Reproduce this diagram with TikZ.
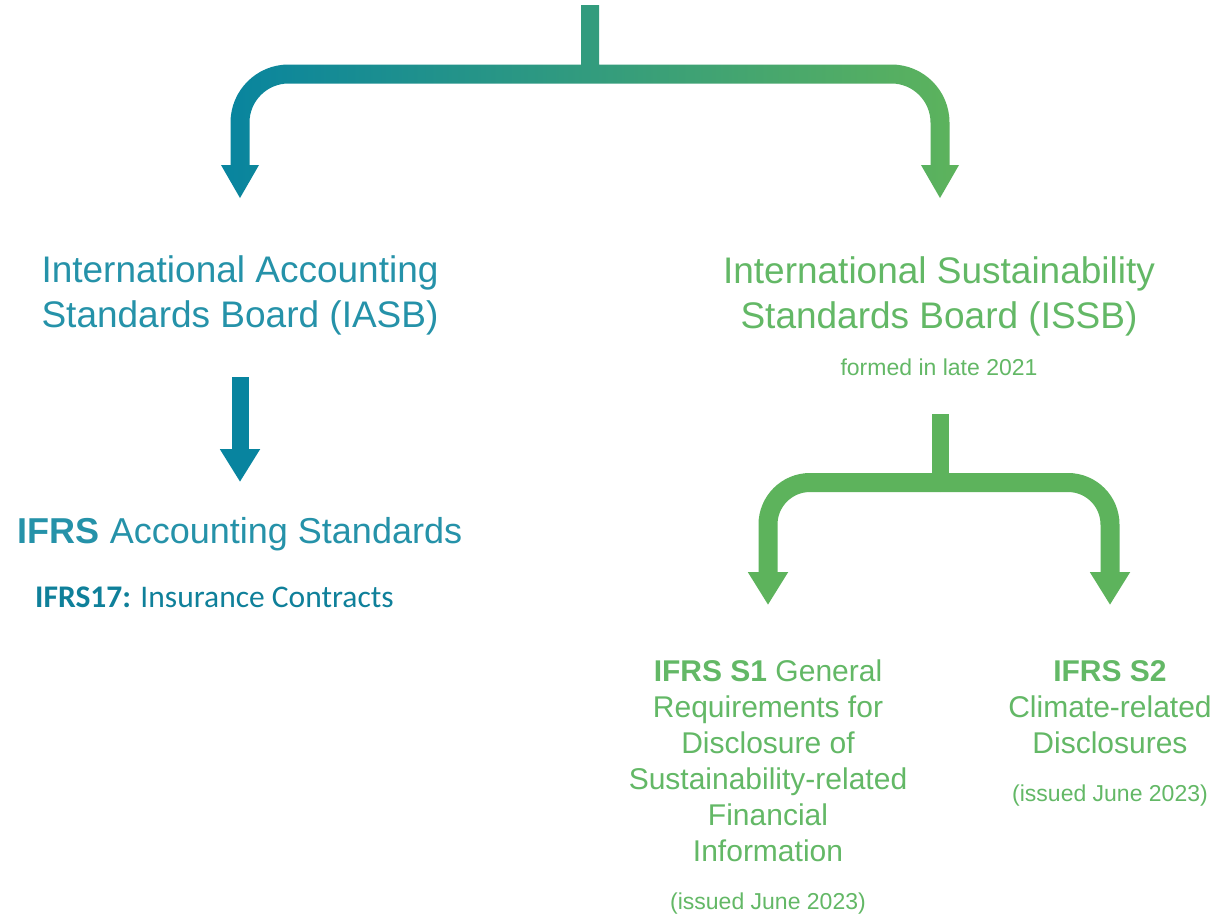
\documentclass[tikz,border=0pt]{standalone}
\usepackage{fontspec}
\setmainfont{Liberation Sans}
\newfontfamily\calibrifont{Carlito}
\usetikzlibrary{arrows.meta}

\definecolor{tealArrow}{HTML}{08849F}
\definecolor{tealMid}{HTML}{2F9C80}
\definecolor{greenArrow}{HTML}{5DB35C}
\definecolor{tealText}{HTML}{2592A9}
\definecolor{tealDeep}{HTML}{0F809A}
\definecolor{greenText}{HTML}{63B866}

\begin{document}
\begin{tikzpicture}[x=1pt,y=-1pt,
  board/.style={inner sep=0pt, align=center, font=\fontsize{37}{45}\selectfont},
  standard/.style={inner sep=0pt, align=center, font=\fontsize{30}{36}\selectfont, text=greenText},
  note/.style={inner sep=0pt, font=\fontsize{23}{28}\selectfont, text=greenText},
  shaft/.style={line width=#1, -{Triangle[width=38pt,length=33pt]}},
]
\useasboundingbox[fill=white] (0,0) rectangle (1219,914);

% branch points and arrow ends
\coordinate (iasbTail) at (240,377);
\coordinate (iasbHead) at (240,482);
\coordinate (issbStem) at (940,414);
\coordinate (issbJoin) at (940,482.5);
\coordinate (s1Tip) at (768,605);
\coordinate (s2Tip) at (1110,605);

% top split connector, shaded from teal to green
\shade[left color=tealArrow, middle color=tealMid, right color=greenArrow]
  (581,5) -- (581,64.5) -- (288.5,64.5)
  .. controls (256.5,64.5) and (230.5,90.5) .. (230.5,122.5)
  -- (230.5,165) -- (221,165) -- (240,198) -- (259,165) -- (249.5,165)
  -- (249.5,122.5)
  .. controls (249.5,101) and (267,83.5) .. (288.5,83.5)
  -- (891.5,83.5)
  .. controls (913,83.5) and (930.5,101) .. (930.5,122.5)
  -- (930.5,165) -- (921,165) -- (940,198) -- (959,165) -- (949.5,165)
  -- (949.5,122.5)
  .. controls (949.5,90.5) and (923.5,64.5) .. (891.5,64.5)
  -- (599,64.5) -- (599,5) -- cycle;

% left column
\node[board, text=tealText, anchor=north] (iasb) at (240,255)
  {International Accounting\\Standards Board (IASB)};
\draw[tealArrow, shaft=17pt] (iasbTail) -- (iasbHead);
\node[inner sep=0pt, anchor=base, text=tealText, font=\fontsize{36}{42}\selectfont]
  (ifrs) at (240,543) {\textbf{IFRS} Accounting Standards};
\node[inner sep=0pt, anchor=base west, text=tealDeep, font=\calibrifont\fontsize{31.5}{38}\selectfont]
  (ifrs17) at (35,607) {\textbf{IFRS17:} Insurance Contracts};

% right column
\node[board, text=greenText, anchor=north] (issb) at (939,256)
  {International Sustainability\\Standards Board (ISSB)};
\node[note, anchor=base] (formed) at (939,375) {formed in late 2021};

\draw[greenArrow, line width=17pt] (issbStem) -- (issbJoin);
\draw[greenArrow, rounded corners=42pt, shaft=19pt] (issbJoin) -| (s1Tip);
\draw[greenArrow, rounded corners=42pt, shaft=19pt] (issbJoin) -| (s2Tip);

\node[standard, anchor=north] (s1) at (768,660)
  {\textbf{IFRS S1} General\\Requirements for\\Disclosure of\\Sustainability-related\\Financial\\Information};
\node[note, anchor=base] (s1date) at (768,909) {(issued June 2023)};

\node[standard, anchor=north] (s2) at (1110,660)
  {\textbf{IFRS S2}\\Climate-related\\Disclosures};
\node[note, anchor=base] (s2date) at (1110,801) {(issued June 2023)};
\end{tikzpicture}
\end{document}
